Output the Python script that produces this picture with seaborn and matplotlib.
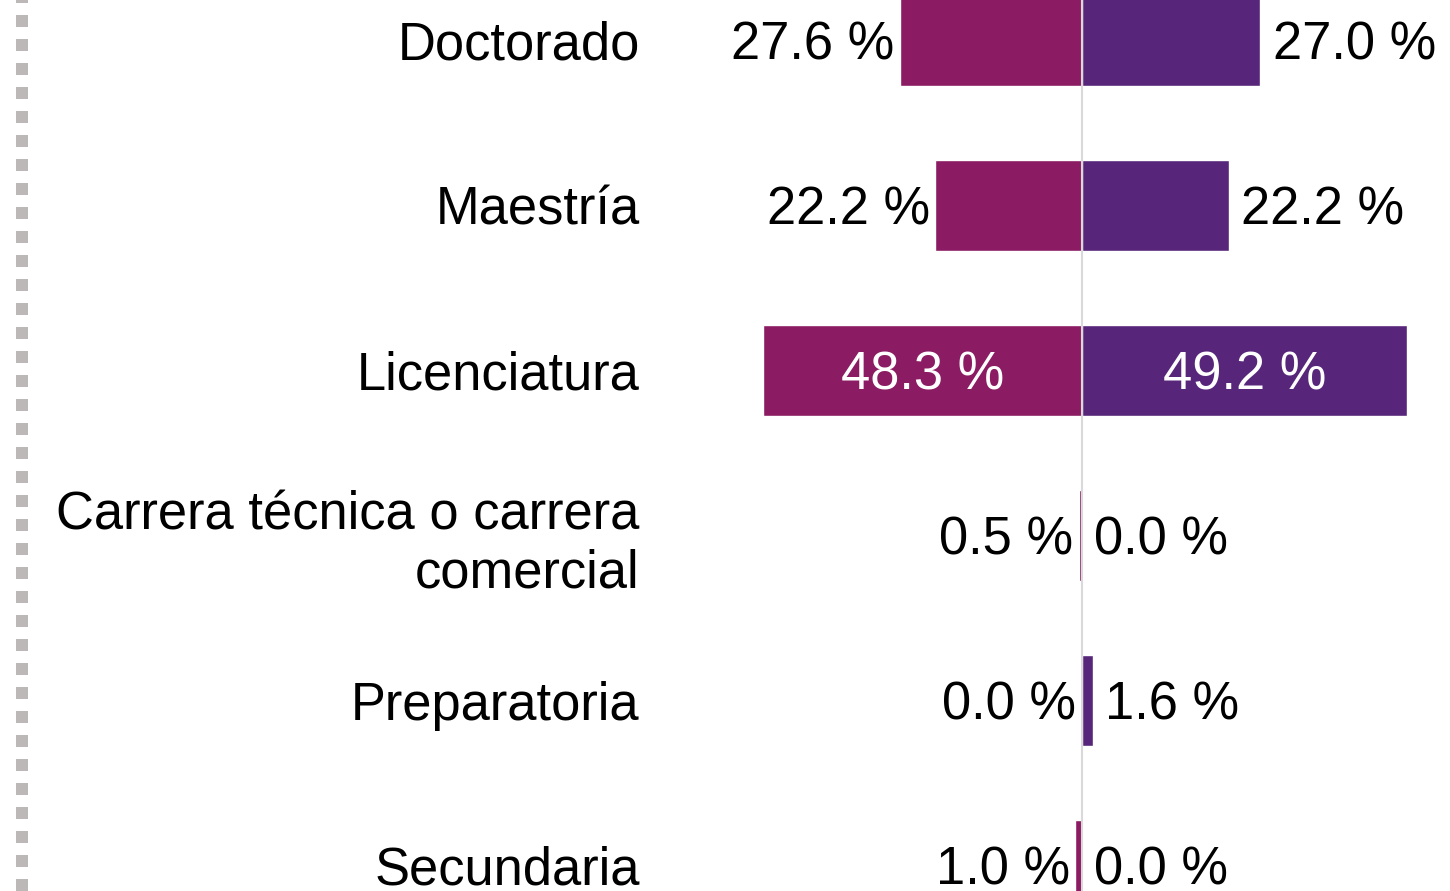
import numpy as np
import pandas as pd
import matplotlib.pyplot as plt
from matplotlib.lines import Line2D
import seaborn as sns

# data
categorias = ["Doctorado", "Maestría", "Licenciatura",
              "Carrera técnica o carrera\ncomercial", "Preparatoria", "Secundaria"]
mujeres = [27.6, 22.2, 48.3, 0.5, 0.0, 1.0]
hombres = [27.0, 22.2, 49.2, 0.0, 1.6, 0.0]

col_izq = "#8B1B62"
col_der = "#57267A"

sns.set_theme(style="white")
plt.rcParams["font.family"] = ["Liberation Sans", "DejaVu Sans"]

df = pd.DataFrame({"cat": categorias, "izq": [-v for v in mujeres], "der": hombres})

fig = plt.figure(figsize=(14.5, 8.91), dpi=100)
ax = fig.add_axes([660 / 1450, 0, 1 - 660 / 1450, 1])

sns.barplot(data=df, y="cat", x="izq", color=col_izq, width=0.55,
            saturation=1, orient="h", ax=ax)
sns.barplot(data=df, y="cat", x="der", color=col_der, width=0.55,
            saturation=1, orient="h", ax=ax)

ax.axvline(0, color="#D9D9D9", lw=1.5, zorder=5)

ax.set_xlim(-63.94, 55.76)
ax.set_ylim(5.155, -0.245)
ax.set_xlabel("")
ax.set_ylabel("")
ax.set_xticks([])
ax.tick_params(axis="y", length=0, pad=14.5, labelsize=37.8, labelcolor="black")
for s in ax.spines.values():
    s.set_visible(False)

fs = 37.8
for i, (m, h) in enumerate(zip(mujeres, hombres)):
    if m > 40:
        ax.text(-m / 2, i, f"{m:.1f} %", ha="center", va="center_baseline",
                color="white", fontsize=fs, zorder=6)
    else:
        ax.annotate(f"{m:.1f} %", (-m, i), xytext=(-4, 0), textcoords="offset points",
                    ha="right", va="center_baseline", color="black", fontsize=fs, zorder=6)
    if h > 40:
        ax.text(h / 2, i, f"{h:.1f} %", ha="center", va="center_baseline",
                color="white", fontsize=fs, zorder=6)
    else:
        ax.annotate(f"{h:.1f} %", (h, i), xytext=(9, 0), textcoords="offset points",
                    ha="left", va="center_baseline", color="black", fontsize=fs, zorder=6)

# dotted border on the left
fig.add_artist(Line2D([22 / 1450, 22 / 1450], [0, 1], color="#BDB8B8",
                      lw=8.64, linestyle=(0, (1, 1)), transform=fig.transFigure))

fig.savefig("out.png", dpi=100)
